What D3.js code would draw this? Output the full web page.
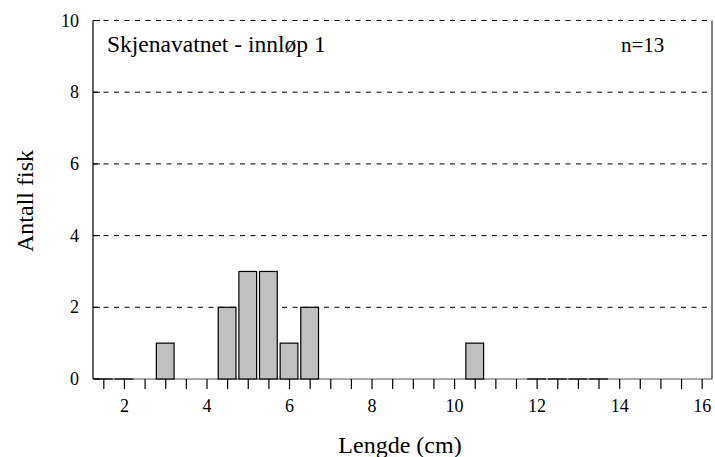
<!DOCTYPE html>
<html>
<head>
<meta charset="utf-8">
<script src="https://cdn.jsdelivr.net/npm/d3@7"></script>
<style>
body { margin: 0; background: #fff; }
svg text { font-family: "Liberation Serif", "Times New Roman", Times, "DejaVu Serif", serif; fill: #000; }
</style>
</head>
<body>
<script>
// length classes (cm) and fish counts
var lengths = [1.5, 2, 3, 4.5, 5, 5.5, 6, 6.5, 10.5, 12, 12.5, 13, 13.5];
var counts  = [0, 0, 1, 2, 3, 3, 1, 2, 1, 0, 0, 0, 0];
var xTicks = [2, 4, 6, 8, 10, 12, 14, 16];
var yTicks = [0, 2, 4, 6, 8, 10];
var title = "Skjenavatnet - innløp 1";
var nLabel = "n=13";

var width = 715, height = 457;
var plotLeft = 93, plotRight = 712, plotTop = 20.5, plotBottom = 379;

var svg = d3.select("body").append("svg")
    .attr("width", width)
    .attr("height", height);

var x = d3.scaleLinear().domain([1.25, 16.25]).range([plotLeft, plotRight]);
var y = d3.scaleLinear().domain([0, 10]).range([plotBottom, plotTop]);

var barW = x(1.75) - x(1.32);

// dashed grid lines
svg.selectAll(".grid")
    .data(yTicks.filter(function(d){ return d > 0; }))
    .enter().append("line")
    .attr("x1", plotLeft).attr("x2", plotRight)
    .attr("y1", function(d){ return y(d); })
    .attr("y2", function(d){ return y(d); })
    .attr("stroke", "#000")
    .attr("stroke-width", 1)
    .attr("stroke-dasharray", "5,5.5");

// baseline
svg.append("line")
    .attr("x1", plotLeft).attr("x2", plotRight)
    .attr("y1", plotBottom).attr("y2", plotBottom)
    .attr("stroke", "#555")
    .attr("stroke-width", 1);

// bars (zero counts still show as a dark line on the baseline)
svg.selectAll(".bar")
    .data(lengths)
    .enter().append("rect")
    .attr("x", function(d){ return x(d) - barW / 2; })
    .attr("y", function(d, i){ return Math.min(y(counts[i]), plotBottom - 0.01); })
    .attr("width", barW)
    .attr("height", function(d, i){ return Math.max(plotBottom - y(counts[i]), 0.01); })
    .attr("fill", "#c0c0c0")
    .attr("stroke", "#000")
    .attr("stroke-width", 1.2);

// y axis line and right border
svg.append("line")
    .attr("x1", plotLeft).attr("x2", plotLeft)
    .attr("y1", plotTop).attr("y2", plotBottom)
    .attr("stroke", "#000").attr("stroke-width", 1.2);
svg.append("line")
    .attr("x1", plotRight).attr("x2", plotRight)
    .attr("y1", plotTop).attr("y2", plotBottom)
    .attr("stroke", "#000").attr("stroke-width", 1);

// y ticks (inward) and labels
yTicks.forEach(function(d){
    svg.append("line")
        .attr("x1", plotLeft).attr("x2", plotLeft + 7)
        .attr("y1", y(d)).attr("y2", y(d))
        .attr("stroke", "#000");
    svg.append("text")
        .attr("x", plotLeft - 14)
        .attr("y", y(d) + 6)
        .attr("text-anchor", "end")
        .attr("font-size", 18)
        .text(d);
});

// x axis: minor ticks every 0.5, labels on even numbers
var xAxis = d3.axisBottom(x)
    .tickValues(d3.range(1.5, 16.01, 0.5))
    .tickSize(10)
    .tickFormat(function(d){ return xTicks.indexOf(d) >= 0 ? d : ""; });

var gx = svg.append("g")
    .attr("transform", "translate(0," + plotBottom + ")")
    .call(xAxis);
gx.attr("font-family", null).attr("font-size", null);
gx.select(".domain").remove();
gx.selectAll(".tick line").attr("stroke", "#000").attr("stroke-width", 1.2);
gx.selectAll(".tick text")
    .attr("font-size", 18)
    .attr("fill", "#000")
    .attr("dy", 0)
    .attr("y", 33);

// labels
svg.append("text")
    .attr("x", 107).attr("y", 52)
    .attr("font-size", 23.5)
    .text(title);

svg.append("text")
    .attr("x", 621).attr("y", 52)
    .attr("font-size", 21)
    .text(nLabel);

svg.append("text")
    .attr("x", 400).attr("y", 453)
    .attr("text-anchor", "middle")
    .attr("font-size", 24)
    .text("Lengde (cm)");

svg.append("text")
    .attr("transform", "translate(33,201) rotate(-90)")
    .attr("text-anchor", "middle")
    .attr("font-size", 24)
    .text("Antall fisk");
</script>
</body>
</html>
